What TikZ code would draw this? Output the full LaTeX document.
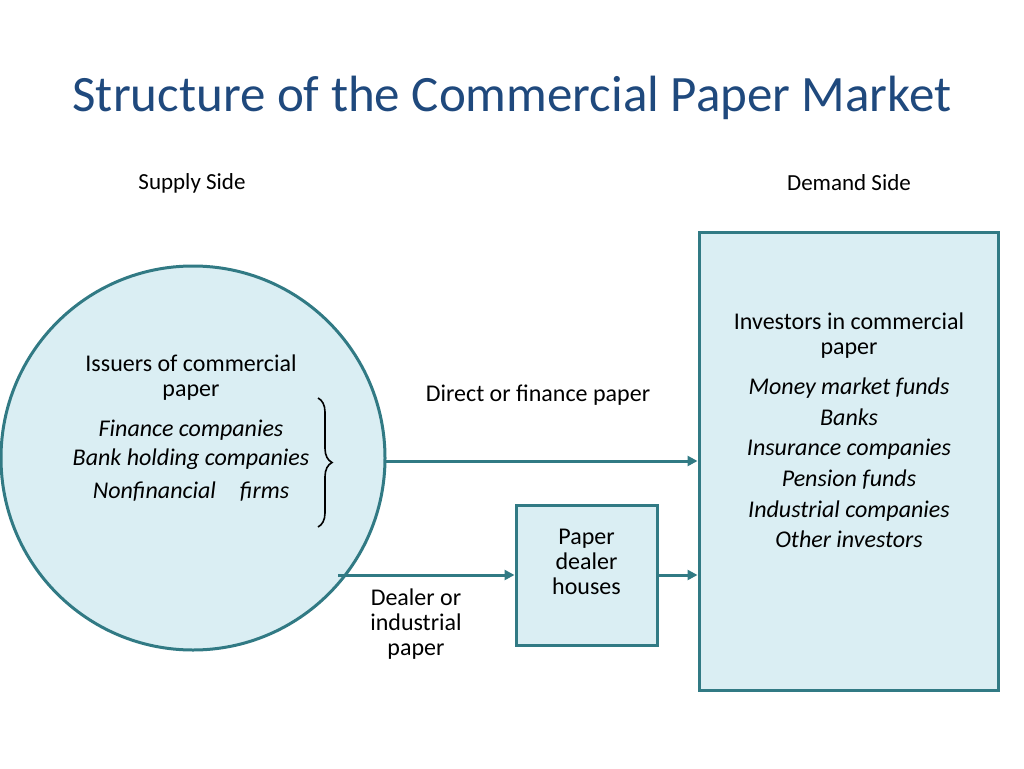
\documentclass[tikz,border=0pt]{standalone}
\usepackage{fontspec}
\setmainfont{Carlito}
\usetikzlibrary{arrows.meta,decorations.pathreplacing}
\definecolor{tl}{RGB}{49,122,132}
\definecolor{fl}{RGB}{218,238,243}
\definecolor{ttl}{RGB}{31,73,125}
\begin{document}
\begin{tikzpicture}[x=1pt,y=-1pt,
  shp/.style={draw=tl,line width=3pt,fill=fl},
  arr/.style={draw=tl,line width=3pt,-{Triangle[length=10pt,width=10pt]}},
  txt/.style={font=\fontsize{24}{25}\selectfont,align=center}]
\useasboundingbox (0,0) rectangle (1024,768);
\node[font=\fontsize{51}{56}\selectfont,text=ttl] (title) at (512,98) {Structure of the Commercial Paper Market};
\node[txt,font=\fontsize{23}{25}\selectfont] (sup) at (192,183) {Supply Side};
\node[txt,font=\fontsize{23}{25}\selectfont] (dem) at (849,183) {Demand Side};
\node[shp,circle,minimum size=384pt,inner sep=0pt] (iss) at (193,458) {};
\node[shp,draw,minimum width=299pt,minimum height=458pt,inner sep=0pt] (inv) at (848.5,461) {};
\node[shp,draw,minimum width=141pt,minimum height=140pt,inner sep=0pt] (dl) at (586.5,575) {};
\node[txt] (isst) at (191,378) {Issuers of commercial\\paper};
\node[txt,font=\fontsize{24}{31}\selectfont\itshape] (issl) at (191,461) {Finance companies\\[-2pt]Bank holding companies\\[2pt]Nonfinancial\quad firms};
\draw[line width=1.6pt,decorate,decoration={brace,amplitude=14pt}] (318,398) -- (318,527) coordinate (bt);
\node[txt] (invt) at (849,336) {Investors in commercial\\paper};
\node[txt,font=\fontsize{24}{30.6}\selectfont\itshape] (invl) at (849,463) {Money market funds\\Banks\\Insurance companies\\Pension funds\\Industrial companies\\Other investors};
\node[txt] (dlt) at (586.5,562) {Paper\\dealer\\houses};
\node[txt] (l1) at (538,395) {Direct or finance paper};
\node[txt] (l2) at (416,624) {Dealer or\\industrial\\paper};
\coordinate (a1) at (386,461);
\coordinate (a2) at (338,575);
\draw[arr] (a1) -- (inv.west |- a1);
\draw[arr] (a2) -- (dl.west |- a2);
\draw[arr] (dl.east) -- (inv.west |- dl.east);
\end{tikzpicture}
\end{document}
